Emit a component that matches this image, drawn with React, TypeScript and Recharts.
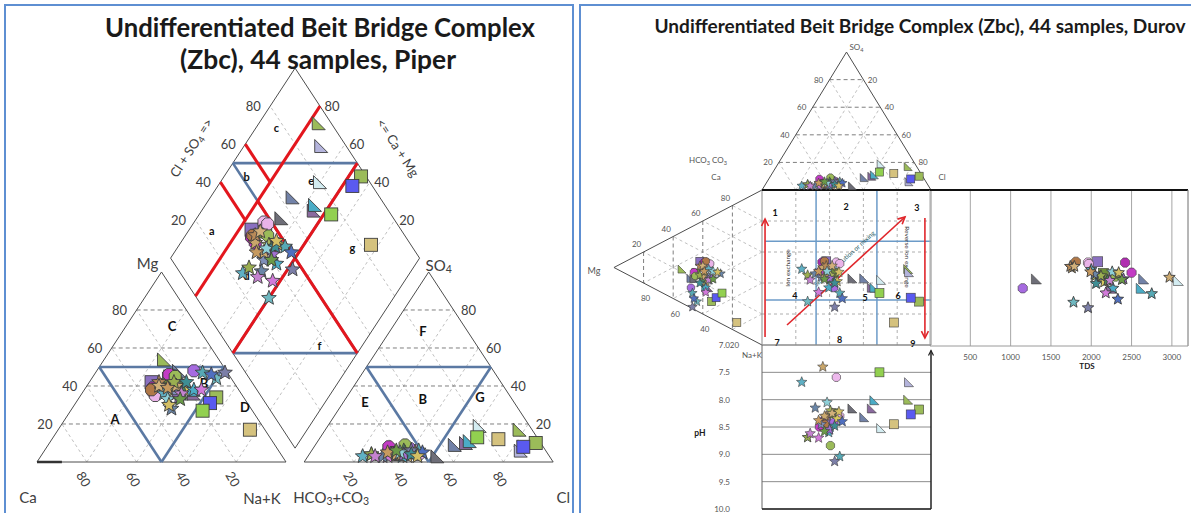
import React from 'react';
import { ScatterChart, Scatter, XAxis, YAxis, ReferenceLine, CartesianGrid } from 'recharts';

// 44 samples of the undifferentiated Beit Bridge Complex (meq %, pH, TDS mg/l)
const SAMPLE_NA = [24, 31, 40, 33, 45, 44, 34, 55, 54, 53, 77, 25, 31, 28, 30, 39, 33, 27, 30, 27, 30, 33, 36, 28, 29, 38, 40, 38, 44, 47, 50, 43, 52, 36, 47, 40, 34, 40, 36, 40, 33, 39, 38, 41];
const SAMPLE_MG = [54, 44, 36, 48, 36, 38, 46, 34, 31, 27, 17, 42, 45, 37, 46, 48, 45, 39, 35, 38, 40, 36, 38, 42, 40, 36, 38, 40, 38, 38, 44, 47, 47, 40, 46, 34, 42, 28, 33, 36, 39, 42, 30, 33];
const SAMPLE_CL = [78, 84, 61, 56, 60, 61, 52, 88, 84, 63, 72, 36, 40, 41, 30, 39, 36, 33, 44, 35, 34, 22, 38, 36, 40, 33, 42, 37, 38, 32, 25, 43, 40, 35, 45, 38, 25, 30, 36, 27, 31, 41, 44, 34];
const SAMPLE_SO4 = [17, 6, 19, 9, 10, 11, 3, 10, 8, 13, 12, 4, 5, 6, 8, 7, 9, 5, 4, 4, 4, 3, 5, 4, 3, 4, 5, 6, 3, 3, 4, 6, 6, 4, 5, 4, 4, 3, 5, 3, 5, 4, 3, 6];
const SAMPLE_PH = [8.0, 7.68, 8.52, 8.32, 8.16, 8.01, 8.16, 8.18, 8.27, 7.5, 8.45, 8.35, 8.25, 7.59, 8.5, 8.42, 8.84, 8.4, 8.3, 8.45, 7.4, 7.68, 8.2, 8.3, 8.25, 8.45, 8.35, 8.55, 8.6, 8.7, 8.69, 9.04, 9.13, 8.3, 8.4, 8.55, 8.69, 8.15, 8.05, 8.62, 8.38, 8.48, 8.22, 8.58];
const SAMPLE_TDS = [3400, 3500, 3080, 2650, 2250, 2620, 1320, 3600, 3700, 3800, 3900, 2080, 2150, 1960, 2500, 1150, 2300, 2420, 1970, 1810, 1760, 2000, 2050, 1740, 1790, 2100, 2160, 2200, 2270, 2180, 1780, 2750, 1960, 2970, 2330, 2400, 2120, 2040, 2260, 2230, 1990, 2060, 2340, 2380];

const TERNARY_TICKS = [20, 40, 60, 80];
const PH_TICKS = [7, 7.5, 8, 8.5, 9, 9.5, 10];
const TDS_TICKS = [500, 1000, 1500, 2000, 2500, 3000];
const TDS_MAX = 3200;

// field labels, given in composition units
const CATION_FIELDS: [string, number, number][] = [['C', 18.4, 71.6], ['A', 20, 22.6], ['B', 46.3, 41.6], ['D', 69, 29]];
const ANION_FIELDS: [string, number, number][] = [['F', 13.2, 69], ['E', 8.7, 31.5], ['B', 31, 33.2], ['G', 53.5, 34.2]];
const DIAMOND_FIELDS: [string, number, number][] = [['a', 91, 24], ['b', 91, 52], ['c', 92, 77], ['d', 65, 26], ['e', 64, 77], ['f', 17.5, 37], ['g', 30, 76]];
const DUROV_FIELDS: [string, number, number][] = [['1', 7.7, 85.8], ['2', 49.7, 89.7], ['3', 91.7, 89], ['4', 19.5, 32.3], ['5', 61, 31], ['6', 80.5, 32.3], ['7', 8.9, 1.9], ['8', 46, 3.9], ['9', 89.3, 1.3]];

// marker look per sample
const SAMPLE_SYMBOL = [
  'tri', 'tri', 'tri', 'tri', 'tri', 'tri', 'tri',
  'sq', 'sq', 'sq', 'sq', 'sq', 'sq',
  'oct', 'oct', 'oct', 'oct', 'oct', 'oct', 'oct',
  ...Array(24).fill('star'),
];
const SAMPLE_COLOR = [
  '#9BBB59', '#B4B4DC', '#D3ECF1', '#7282A8', '#8A6A9E', '#4BACC6', '#6E6E78',
  '#9BBB59', '#5A5AF0', '#92D050', '#D5C27E', '#8A70C0', '#6F8F3A',
  '#EDB8EC', '#C23BC4', '#A66BE0', '#9BBB59', '#B02CB0', '#E9B3E8', '#B07848',
  '#C9A66B', '#5FB0C4', '#A8B45A', '#B88A58', '#D2B07A', '#7F8FB8', '#D8C85E', '#4E8A5E',
  '#4BACC6', '#D27ADA', '#6FB8C0', '#57A9B5', '#7C7FA8', '#CDAA70', '#4F6FC0', '#A070D0',
  '#9AAE50', '#6A86A8', '#8ED0D8', '#C583D0', '#C79A5F', '#3E8E94', '#D4BF64', '#6A9A48',
];

const FONT = "Lato, 'Open Sans', 'DejaVu Sans', sans-serif";

type Pt = { x: number; y: number };

const samples = SAMPLE_NA.map((na, i) => ({
  na,
  mg: SAMPLE_MG[i],
  cl: SAMPLE_CL[i],
  so4: SAMPLE_SO4[i],
  ph: SAMPLE_PH[i],
  tds: SAMPLE_TDS[i],
  kind: SAMPLE_SYMBOL[i],
  color: SAMPLE_COLOR[i],
}));

// ---------- Piper geometry ----------
const H3 = Math.sqrt(3) / 2;
const GAP = 7.3;
const cat = (na: number, mg: number): Pt => ({ x: na + mg / 2, y: mg * H3 });
const ani = (cl: number, so4: number): Pt => ({ x: 100 + GAP + cl + so4 / 2, y: so4 * H3 });
const dia = (c: number, a: number): Pt => ({ x: 100 + GAP / 2 + (a - c) / 2, y: (GAP + a + c) * H3 });

const PIPER = { w: 580, h: 513, ox: 37, oy: 462, sx: 2.49, sy: 2.194 };

// ---------- Durov geometry ----------
const TOP_H = 89;
const LEFT_W = 87.6;
const durTop = (cl: number, so4: number): Pt => ({ x: cl + so4 / 2, y: 100 + (TOP_H * so4) / 100 });
const durLeft = (na: number, mg: number): Pt => ({ x: (-LEFT_W * mg) / 100, y: 100 - na - mg / 2 });

const DUROV = { left: 580, w: 380, h: 370, ox: 762, oy: 345, sx: 1.69, sy: 1.55 };

const LINE_STYLE: Record<string, any> = {
  frame: { stroke: '#4d4d4d', strokeWidth: 1 },
  major: { stroke: '#707070', strokeWidth: 0.9, strokeDasharray: '4 3' },
  minor: { stroke: '#b9b9b9', strokeWidth: 0.9, strokeDasharray: '3 3' },
  blue: { stroke: '#5B79A3', strokeWidth: 2.6 },
  red: { stroke: '#E3161D', strokeWidth: 3 },
  thick: { stroke: '#333', strokeWidth: 2.5 },
  heavy: { stroke: '#111', strokeWidth: 1.8 },
  sqgrid: { stroke: '#9a9a9a', strokeWidth: 0.8, strokeDasharray: '3 3' },
  lblue: { stroke: '#6C9BC8', strokeWidth: 1.5 },
  gray: { stroke: '#8a8a8a', strokeWidth: 1 },
};

type Seg = { a: Pt; b: Pt; kind: string };
const poly = (pts: Pt[], kind: string): Seg[] => pts.slice(1).map((p, i) => ({ a: pts[i], b: p, kind }));

const piperLines: Seg[] = [
  ...TERNARY_TICKS.flatMap((v) => [
    { a: cat(v, 0), b: cat(v, 100 - v), kind: 'minor' },
    { a: cat(100 - v, 0), b: cat(0, 100 - v), kind: 'minor' },
    { a: ani(v, 0), b: ani(v, 100 - v), kind: 'minor' },
    { a: ani(100 - v, 0), b: ani(0, 100 - v), kind: 'minor' },
    { a: dia(v, 0), b: dia(v, 100), kind: 'minor' },
    { a: dia(0, v), b: dia(100, v), kind: 'minor' },
    { a: cat(0, v), b: cat(100 - v, v), kind: 'major' },
    { a: ani(0, v), b: ani(100 - v, v), kind: 'major' },
  ]),
  ...poly([cat(0, 0), cat(100, 0), cat(0, 100), cat(0, 0)], 'frame'),
  ...poly([ani(0, 0), ani(100, 0), ani(0, 100), ani(0, 0)], 'frame'),
  ...poly([dia(0, 0), dia(100, 0), dia(100, 100), dia(0, 100), dia(0, 0)], 'frame'),
  { a: cat(0, 0), b: cat(10, 0), kind: 'thick' },
  ...poly([cat(0, 50), cat(50, 50), cat(50, 0), cat(0, 50)], 'blue'),
  ...poly([ani(0, 50), ani(50, 50), ani(50, 0), ani(0, 50)], 'blue'),
  ...poly([dia(100, 50), dia(50, 100), dia(50, 50), dia(100, 50)], 'blue'),
  ...poly([dia(50, 0), dia(0, 50), dia(50, 50), dia(50, 0)], 'blue'),
  { a: dia(80, 0), b: dia(80, 100), kind: 'red' },
  { a: dia(50, 0), b: dia(50, 100), kind: 'red' },
  { a: dia(0, 50), b: dia(80, 50), kind: 'red' },
  { a: dia(80, 40), b: dia(100, 40), kind: 'red' },
  { a: dia(80, 60), b: dia(100, 60), kind: 'red' },
];

const durovLines: Seg[] = [
  ...TERNARY_TICKS.flatMap((v) => [
    { a: durTop(v, 0), b: durTop(v, 100 - v), kind: 'minor' },
    { a: durTop(100 - v, 0), b: durTop(0, 100 - v), kind: 'minor' },
    { a: durLeft(v, 0), b: durLeft(v, 100 - v), kind: 'minor' },
    { a: durLeft(100 - v, 0), b: durLeft(0, 100 - v), kind: 'minor' },
    { a: durTop(0, v), b: durTop(100 - v, v), kind: 'major' },
    { a: durLeft(0, v), b: durLeft(100 - v, v), kind: 'major' },
    { a: { x: v, y: 0 }, b: { x: v, y: 100 }, kind: 'sqgrid' },
    { a: { x: 0, y: v }, b: { x: 100, y: v }, kind: 'sqgrid' },
  ]),
  ...[32, 68].map((v) => ({ a: { x: v, y: 0 }, b: { x: v, y: 100 }, kind: 'lblue' })),
  ...[29, 67].map((v) => ({ a: { x: 2, y: v }, b: { x: 100, y: v }, kind: 'lblue' })),
  ...poly([durTop(0, 0), durTop(0, 100), durTop(100, 0)], 'frame'),
  ...poly([durLeft(0, 0), durLeft(0, 100), durLeft(100, 0)], 'frame'),
  { a: { x: 0, y: 0 }, b: { x: 0, y: 100 }, kind: 'gray' },
  { a: { x: 100, y: 0 }, b: { x: 100, y: 100 }, kind: 'gray' },
  { a: { x: 0, y: 0 }, b: { x: 100, y: 0 }, kind: 'gray' },
  { a: { x: 0, y: 100 }, b: { x: 100, y: 100 }, kind: 'heavy' },
];

const DUROV_ARROWS: Seg[] = [
  { a: { x: 1.8, y: 5.2 }, b: { x: 1.8, y: 81.3 }, kind: 'arrow' },
  { a: { x: 96.4, y: 82 }, b: { x: 96.4, y: 4.5 }, kind: 'arrow' },
  { a: { x: 14.8, y: 12.9 }, b: { x: 84.6, y: 82.6 }, kind: 'arrow' },
];

type Lbl = Pt & { text: string; dx?: number; dy?: number; rot?: number; size: number; bold?: boolean; fill?: string; anchor?: string };
const lbl = (p: Pt, text: string, o: Partial<Lbl> & { size: number }): Lbl => ({ ...p, text, ...o });

const piperLabels: Lbl[] = [
  ...TERNARY_TICKS.map((v) => lbl(cat(v, 0), String(100 - v), { dx: -3, dy: 17, rot: 60, size: 13 })),
  ...TERNARY_TICKS.map((v) => lbl(cat(0, v), String(v), { dx: -17, size: 13 })),
  ...TERNARY_TICKS.map((v) => lbl(ani(v, 0), String(v), { dx: -3, dy: 17, rot: 60, size: 13 })),
  ...TERNARY_TICKS.map((v) => lbl(ani(100 - v, v), String(v), { dx: 15, size: 13 })),
  ...TERNARY_TICKS.map((v) => lbl(dia(100, v), String(v), { dx: -17, size: 13 })),
  ...TERNARY_TICKS.map((v) => lbl(dia(v, 100), String(v), { dx: 12, size: 13 })),
  lbl(cat(0, 100), 'Mg', { dx: -14, dy: -9, size: 15 }),
  lbl(cat(0, 0), 'Ca', { dx: -9, dy: 35, size: 15 }),
  lbl(cat(100, 0), 'Na+K', { dx: -24, dy: 36, size: 15 }),
  lbl(ani(0, 0), 'HCO_3+CO_3', { dx: 27, dy: 35, size: 15 }),
  lbl(ani(100, 0), 'Cl', { dx: 10, dy: 35, size: 15 }),
  lbl(ani(0, 100), 'SO_4', { dx: 10, dy: -7, size: 15 }),
  lbl(dia(100, 55), 'Cl + SO_4 =>', { dx: -48, dy: -6, rot: -57, size: 13 }),
  lbl(dia(55, 100), '<= Ca + Mg', { dx: 47, dy: -6, rot: 57, size: 13 }),
  ...CATION_FIELDS.map(([t, na, mg]) => lbl(cat(na, mg), t, { size: 13, bold: true, fill: '#111' })),
  ...ANION_FIELDS.map(([t, cl, so4]) => lbl(ani(cl, so4), t, { size: 13, bold: true, fill: '#111' })),
  ...DIAMOND_FIELDS.map(([t, c, a]) => lbl(dia(c, a), t, { size: 11, bold: true, fill: '#111' })),
];

const durovLabels: Lbl[] = [
  ...TERNARY_TICKS.map((v) => lbl(durTop(0, v), String(v), { dx: -11, size: 8, fill: '#555' })),
  ...TERNARY_TICKS.map((v) => lbl(durTop(100 - v, v), String(100 - v), { dx: 9, size: 8, fill: '#555' })),
  ...TERNARY_TICKS.map((v) => lbl(durLeft(0, v), String(100 - v), { dx: -7, dy: -8, size: 8, fill: '#555' })),
  ...TERNARY_TICKS.map((v) => lbl(durLeft(100 - v, v), String(v), { dx: 2, dy: 15, size: 8, fill: '#555' })),
  lbl(durTop(0, 100), 'SO_4', { dx: 10, dy: -5, size: 8, fill: '#555' }),
  lbl(durTop(0, 0), 'HCO_3 CO_3', { dx: -54, dy: -30, size: 8, fill: '#555' }),
  lbl(durTop(0, 0), 'Ca', { dx: -46, dy: -13, size: 8, fill: '#555' }),
  lbl(durTop(100, 0), 'Cl', { dx: 11, dy: -13, size: 8, fill: '#555' }),
  lbl(durLeft(0, 100), 'Mg', { dx: -20, dy: 2, size: 9, fill: '#555' }),
  lbl(durLeft(100, 0), 'Na+K', { dx: -10, dy: 10, size: 8, fill: '#555' }),
  ...DUROV_FIELDS.map(([t, x, y]) => lbl({ x, y }, t, { size: 9, bold: true, fill: '#111' })),
  lbl({ x: 14.8, y: 49.7 }, 'Ion exchange', { rot: -90, size: 6.5, fill: '#333' }),
  lbl({ x: 48.5, y: 56 }, 'Simple dissolution or mixing', { rot: -42, size: 6.5, fill: '#2e5f6a' }),
  lbl({ x: 86.4, y: 56.8 }, 'Reverse ion exchange', { rot: 90, size: 6.5, fill: '#333' }),
];

function Marker({ cx, cy, kind, color, size }: any) {
  if (cx == null || cy == null) return null;
  const r = size / 2;
  const stroke = '#3d3d3d';
  const sw = size > 10 ? 0.9 : 0.6;
  if (kind === 'sq') return <rect x={cx - r} y={cy - r} width={size} height={size} fill={color} stroke={stroke} strokeWidth={sw} />;
  if (kind === 'tri')
    return <polygon points={`${cx - r},${cy - r} ${cx - r},${cy + r} ${cx + r},${cy + r}`} fill={color} stroke={stroke} strokeWidth={sw} />;
  const pts: string[] = [];
  if (kind === 'star') {
    for (let i = 0; i < 10; i++) {
      const a = -Math.PI / 2 + (i * Math.PI) / 5;
      const rr = i % 2 === 0 ? r * 1.1 : r * 0.48;
      pts.push(`${cx + rr * Math.cos(a)},${cy + rr * Math.sin(a)}`);
    }
  } else {
    for (let i = 0; i < 8; i++) {
      const a = Math.PI / 8 + (i * Math.PI) / 4;
      pts.push(`${cx + r * Math.cos(a)},${cy + r * Math.sin(a)}`);
    }
  }
  return <polygon points={pts.join(' ')} fill={color} stroke={stroke} strokeWidth={sw} />;
}

const markerShape = (size: number) => (p: any) => (
  <Marker cx={p.cx} cy={p.cy} kind={p.payload.kind} color={p.payload.color} size={p.payload.kind === 'star' ? size + 1 : size} />
);

const renderLabel = (p: any) => {
  const d = p.payload as Lbl;
  const x = p.cx + (d.dx ?? 0);
  const y = p.cy + (d.dy ?? 0);
  const parts = d.text.split(/(_\d)/).filter(Boolean);
  const sub = d.size * 0.28;
  let shifted = false;
  return (
    <text
      x={x}
      y={y}
      textAnchor={d.anchor ?? 'middle'}
      dominantBaseline="central"
      fontSize={d.size}
      fontWeight={d.bold ? 700 : 400}
      fill={d.fill ?? '#404040'}
      fontFamily={FONT}
      transform={d.rot ? `rotate(${d.rot} ${x} ${y})` : undefined}
    >
      {parts.map((s, i) => {
        if (s.startsWith('_')) {
          shifted = true;
          return (
            <tspan key={i} fontSize={d.size * 0.7} dy={sub}>
              {s.slice(1)}
            </tspan>
          );
        }
        const dy = shifted ? -sub : undefined;
        shifted = false;
        return (
          <tspan key={i} dy={dy}>
            {s}
          </tspan>
        );
      })}
    </text>
  );
};

const ArrowLine = (p: any) => {
  const { x1, y1, x2, y2 } = p;
  const ang = Math.atan2(y2 - y1, x2 - x1);
  const L = 7;
  const W = 3.5;
  const bx = x2 - L * Math.cos(ang);
  const by = y2 - L * Math.sin(ang);
  const c = '#E0262B';
  return (
    <g>
      <line x1={x1} y1={y1} x2={x2} y2={y2} stroke={c} strokeWidth={1.6} />
      <polyline
        points={`${bx + W * Math.sin(ang)},${by - W * Math.cos(ang)} ${x2},${y2} ${bx - W * Math.sin(ang)},${by + W * Math.cos(ang)}`}
        fill="none"
        stroke={c}
        strokeWidth={1.6}
      />
    </g>
  );
};

const segLines = (lines: Seg[], prefix: string) =>
  lines.map((l, i) => (
    <ReferenceLine key={`${prefix}${i}`} segment={[l.a, l.b]} ifOverflow="visible" {...LINE_STYLE[l.kind]} />
  ));

const PiperChart = () => {
  const cation = samples.map((s) => ({ ...cat(s.na, s.mg), kind: s.kind, color: s.color }));
  const anion = samples.map((s) => ({ ...ani(s.cl, s.so4), kind: s.kind, color: s.color }));
  const diamond = samples.map((s) => ({ ...dia(100 - s.na, s.cl + s.so4), kind: s.kind, color: s.color }));
  return (
    <ScatterChart width={PIPER.w} height={PIPER.h} margin={{ top: 0, right: 0, bottom: 0, left: 0 }}>
      <XAxis type="number" dataKey="x" hide allowDataOverflow domain={[-PIPER.ox / PIPER.sx, (PIPER.w - PIPER.ox) / PIPER.sx]} />
      <YAxis type="number" dataKey="y" hide allowDataOverflow domain={[(PIPER.oy - PIPER.h) / PIPER.sy, PIPER.oy / PIPER.sy]} />
      {segLines(piperLines, 'p')}
      <Scatter data={piperLabels} shape={renderLabel} isAnimationActive={false} />
      <Scatter data={cation} shape={markerShape(13)} isAnimationActive={false} />
      <Scatter data={anion} shape={markerShape(13)} isAnimationActive={false} />
      <Scatter data={diamond} shape={markerShape(13)} isAnimationActive={false} />
    </ScatterChart>
  );
};

const DurovChart = () => {
  const top = samples.map((s) => ({ ...durTop(s.cl, s.so4), kind: s.kind, color: s.color }));
  const left = samples.map((s) => ({ ...durLeft(s.na, s.mg), kind: s.kind, color: s.color }));
  const square = samples.map((s) => ({ x: s.cl + s.so4 / 2, y: 100 - s.na - s.mg / 2, kind: s.kind, color: s.color }));
  return (
    <ScatterChart width={DUROV.w} height={DUROV.h} margin={{ top: 0, right: 0, bottom: 0, left: 0 }}>
      <XAxis
        type="number"
        dataKey="x"
        hide
        allowDataOverflow
        domain={[(DUROV.left - DUROV.ox) / DUROV.sx, (DUROV.left + DUROV.w - DUROV.ox) / DUROV.sx]}
      />
      <YAxis type="number" dataKey="y" hide allowDataOverflow domain={[(DUROV.oy - DUROV.h) / DUROV.sy, DUROV.oy / DUROV.sy]} />
      {segLines(durovLines, 'd')}
      {DUROV_ARROWS.map((l, i) => (
        <ReferenceLine key={`a${i}`} segment={[l.a, l.b]} ifOverflow="visible" shape={ArrowLine} />
      ))}
      <Scatter data={durovLabels} shape={renderLabel} isAnimationActive={false} />
      <Scatter data={top} shape={markerShape(8)} isAnimationActive={false} />
      <Scatter data={left} shape={markerShape(8)} isAnimationActive={false} />
      <Scatter data={square} shape={markerShape(9)} isAnimationActive={false} />
    </ScatterChart>
  );
};

const PhTick = (p: any) => (
  <text x={30} y={p.y} textAnchor="end" dominantBaseline="central" fontSize={8} fill="#555" fontFamily={FONT}>
    {Number(p.payload.value).toFixed(1)}
  </text>
);

const PhChart = () => {
  const pts = samples.map((s) => ({ x: s.cl + s.so4 / 2, y: s.ph, kind: s.kind, color: s.color }));
  return (
    <ScatterChart width={240} height={175} margin={{ top: 5, right: 9, bottom: 6, left: 0 }}>
      <CartesianGrid vertical={false} stroke="#8c8c8c" />
      <XAxis type="number" dataKey="x" hide allowDataOverflow domain={[0, 100]} />
      <YAxis
        type="number"
        dataKey="y"
        domain={[7, 10]}
        reversed
        allowDataOverflow
        ticks={PH_TICKS}
        interval={0}
        tick={PhTick}
        tickLine={false}
        axisLine={false}
        width={62}
      />
      <ReferenceLine segment={[{ x: 0, y: 7 }, { x: 0, y: 10 }]} ifOverflow="visible" stroke="#666" strokeWidth={1} />
      <ReferenceLine segment={[{ x: 0, y: 10 }, { x: 100, y: 10 }]} ifOverflow="visible" stroke="#222" strokeWidth={1.5} />
      <ReferenceLine segment={[{ x: 100, y: 10 }, { x: 100, y: 7.1 }]} ifOverflow="visible" shape={(p: any) => (
        <g>
          <line x1={p.x1} y1={p.y1} x2={p.x2} y2={p.y2} stroke="#222" strokeWidth={1.5} />
          <polyline points={`${p.x2 - 2.5},${p.y2 + 5} ${p.x2},${p.y2} ${p.x2 + 2.5},${p.y2 + 5}`} fill="none" stroke="#222" strokeWidth={1.2} />
        </g>
      )} />
      <Scatter data={pts} shape={markerShape(9)} isAnimationActive={false} />
    </ScatterChart>
  );
};

const TdsTick = (p: any) => (
  <text x={p.x} y={172} textAnchor="middle" dominantBaseline="central" fontSize={8} fill="#555" fontFamily={FONT}>
    {p.payload.value}
  </text>
);

const TdsChart = () => {
  const pts = samples
    .filter((s) => s.tds <= TDS_MAX)
    .map((s) => ({ x: s.tds, y: 100 - s.na - s.mg / 2, kind: s.kind, color: s.color }));
  return (
    <ScatterChart width={266} height={195} margin={{ top: 5, right: 3, bottom: 14, left: 5 }}>
      <CartesianGrid horizontal={false} stroke="#a6a6a6" />
      <XAxis
        type="number"
        dataKey="x"
        domain={[0, TDS_MAX]}
        allowDataOverflow
        ticks={TDS_TICKS}
        interval={0}
        tick={TdsTick}
        tickLine={false}
        axisLine={false}
        height={20}
      />
      <YAxis type="number" dataKey="y" hide allowDataOverflow domain={[0, 100]} />
      <ReferenceLine segment={[{ x: 0, y: 100 }, { x: TDS_MAX, y: 100 }]} ifOverflow="visible" stroke="#111" strokeWidth={1.8} />
      <ReferenceLine segment={[{ x: 0, y: 0 }, { x: TDS_MAX, y: 0 }]} ifOverflow="visible" stroke="#9a9a9a" strokeWidth={1} />
      <ReferenceLine segment={[{ x: TDS_MAX, y: 0 }, { x: TDS_MAX, y: 100 }]} ifOverflow="visible" stroke="#9a9a9a" strokeWidth={1} />
      <Scatter data={pts} shape={markerShape(10)} isAnimationActive={false} />
    </ScatterChart>
  );
};

export default function App() {
  const abs = (left: number, top: number): React.CSSProperties => ({ position: 'absolute', left, top });
  return (
    <div style={{ position: 'relative', width: 1191, height: 513, overflow: 'hidden', background: '#fff', fontFamily: FONT }}>
      <style>{'body{margin:0}'}</style>
      <div style={{ ...abs(4, 4), width: 566, height: 540, border: '2px solid #5E8FD2' }} />
      <div style={{ ...abs(579, 4), width: 640, height: 540, border: '2px solid #5E8FD2' }} />
      <div style={abs(0, 0)}>
        <PiperChart />
      </div>
      <div style={abs(DUROV.left, 0)}>
        <DurovChart />
      </div>
      <div style={abs(925, 185)}>
        <TdsChart />
      </div>
      <div style={abs(700, 340)}>
        <PhChart />
      </div>
      <svg width={1191} height={513} style={{ ...abs(0, 0), pointerEvents: 'none' }}>
        <g fontFamily={FONT} fontWeight={700} fill="#1a1a1a" textAnchor="middle">
          <text x={320} y={37} fontSize={27} textLength={430} lengthAdjust="spacingAndGlyphs">
            Undifferentiated Beit Bridge Complex
          </text>
          <text x={318} y={69} fontSize={27} textLength={276} lengthAdjust="spacingAndGlyphs">
            (Zbc), 44 samples, Piper
          </text>
          <text x={920} y={33} fontSize={18} textLength={531} lengthAdjust="spacingAndGlyphs">
            Undifferentiated Beit Bridge Complex  (Zbc), 44 samples, Durov
          </text>
          <text x={700} y={436} fontSize={8.5}>pH</text>
          <text x={1087} y={369} fontSize={8}>TDS</text>
        </g>
      </svg>
    </div>
  );
}
